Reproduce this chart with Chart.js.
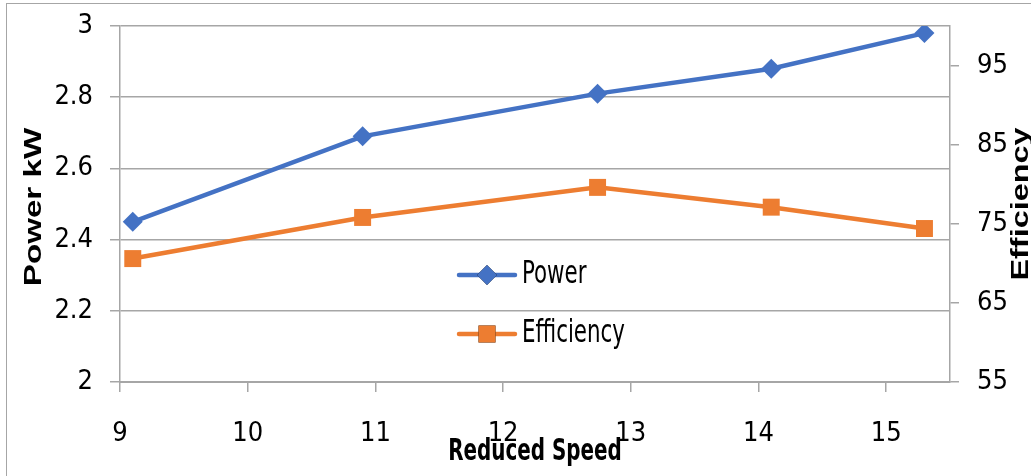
<!DOCTYPE html>
<html>
<head>
<meta charset="utf-8">
<script src="https://cdn.jsdelivr.net/npm/chart.js@4.4.1/dist/chart.umd.min.js"></script>
<style>
  html, body { margin: 0; padding: 0; background: #fff; overflow: hidden; }
  #wrap { position: relative; width: 1031px; height: 476px; }
  #frame { position: absolute; left: 6px; top: 3px; width: 1100px; height: 520px; border: 1px solid #a6a6a6; box-sizing: border-box; }
  canvas { position: absolute; left: 0; top: 0; }
</style>
</head>
<body>
<div id="wrap">
  <div id="frame"></div>
  <canvas id="chart" width="1031" height="476"></canvas>
</div>
<script>
const speed = [9.1, 10.9, 12.74, 14.1, 15.3];
const power = [2.45, 2.69, 2.81, 2.88, 2.98];
const efficiency = [70.6, 75.8, 79.6, 77.1, 74.4];

const powerTicks = [2, 2.2, 2.4, 2.6, 2.8, 3];
const effTicks = [55, 65, 75, 85, 95];
const speedTicks = [9, 10, 11, 12, 13, 14, 15];

const blue = '#4472C4';
const orange = '#ED7D31';
const gridCol = '#a6a6a6';
const narrow = "'DejaVu Sans Condensed', 'Liberation Sans Narrow', sans-serif";

// squeezed text, the original looks stretched tall
function tallText(ctx, txt, x, y, sx, sy) {
    ctx.save();
    ctx.translate(x, y);
    ctx.scale(sx, sy);
    ctx.fillText(txt, 0, 0);
    ctx.restore();
}

// titles and the legend are drawn by hand so they can sit where the original has them
const extras = {
    id: 'extras',
    afterDraw(chart) {
        const ctx = chart.ctx;
        ctx.save();
        ctx.fillStyle = '#000';
        ctx.textAlign = 'center';
        ctx.textBaseline = 'middle';

        ctx.font = "bold 24px 'Liberation Sans', Arial, sans-serif";
        ctx.save();
        ctx.translate(34, 207);
        ctx.rotate(-Math.PI / 2);
        ctx.scale(1.38, 1);
        ctx.fillText('Power kW', 0, 0);
        ctx.restore();

        ctx.save();
        ctx.translate(1021, 204);
        ctx.rotate(-Math.PI / 2);
        ctx.scale(1.35, 1);
        ctx.fillText('Efficiency', 0, 0);
        ctx.restore();

        ctx.font = 'bold 27px ' + narrow;
        tallText(ctx, 'Reduced Speed', 535, 452, 0.82, 1.12);

        const items = [
            { label: 'Power', color: blue, style: 'rectRot', r: 10, y: 275 },
            { label: 'Efficiency', color: orange, style: 'rect', r: 12, y: 334 }
        ];
        items.forEach(it => {
            ctx.strokeStyle = it.color;
            ctx.lineWidth = 4.5;
            ctx.lineCap = 'round';
            ctx.beginPath();
            ctx.moveTo(459, it.y);
            ctx.lineTo(515, it.y);
            ctx.stroke();
            Chart.helpers.drawPoint(ctx, {
                pointStyle: it.style, radius: it.r, borderWidth: 0, rotation: 0
            }, 487, it.y);
            ctx.fillStyle = it.color;
            ctx.fill();
            ctx.fillStyle = '#000';
            ctx.textAlign = 'left';
            ctx.font = '27px ' + narrow;
            tallText(ctx, it.label, 522, it.y, 0.88, 1.15);
        });
        ctx.restore();
    }
};

// fixed box sizes so the plot area lands where the original one is
function fixV(width) {
    return s => { s.width = width; s.paddingTop = 0; s.paddingBottom = 0; };
}

new Chart(document.getElementById('chart'), {
    type: 'line',
    data: {
        datasets: [{
            label: 'Power',
            data: speed.map((s, i) => ({ x: s, y: power[i] })),
            borderColor: blue,
            backgroundColor: blue,
            borderWidth: 4.5,
            pointStyle: 'rectRot',
            pointRadius: 10,
            pointBorderWidth: 0,
            yAxisID: 'y'
        }, {
            label: 'Efficiency',
            data: speed.map((s, i) => ({ x: s, y: efficiency[i] })),
            borderColor: orange,
            backgroundColor: orange,
            borderWidth: 4.5,
            pointStyle: 'rect',
            pointRadius: 12,
            pointBorderWidth: 0,
            yAxisID: 'y2'
        }]
    },
    options: {
        responsive: false,
        animation: false,
        layout: { padding: { top: 26, left: 0, right: 0, bottom: 0 } },
        plugins: { legend: { display: false }, tooltip: { enabled: false } },
        scales: {
            x: {
                type: 'linear',
                min: 9,
                max: 15.5,
                afterBuildTicks: s => { s.ticks = speedTicks.map(v => ({ value: v })); },
                afterFit: s => { s.height = 94; s.paddingLeft = 0; s.paddingRight = 0; },
                ticks: { color: '#000', font: { size: 27, family: narrow }, padding: 26, maxRotation: 0, callback: v => String(v) },
                grid: { drawOnChartArea: false, drawTicks: true, tickLength: 10, color: gridCol, lineWidth: 1.5 },
                border: { color: gridCol, width: 2 }
            },
            y: {
                position: 'left',
                min: 2,
                max: 3,
                afterBuildTicks: s => { s.ticks = powerTicks.map(v => ({ value: v })); },
                afterFit: fixV(120),
                ticks: { color: '#000', font: { size: 27, family: narrow }, padding: 17, callback: v => String(v) },
                grid: { color: gridCol, lineWidth: 1.5, tickLength: 10 },
                border: { color: gridCol, width: 1.5 }
            },
            y2: {
                position: 'right',
                min: 55,
                max: 100,
                afterBuildTicks: s => { s.ticks = effTicks.map(v => ({ value: v })); },
                afterFit: fixV(81),
                ticks: { color: '#000', font: { size: 27, family: narrow }, padding: 18, callback: v => String(v) },
                grid: { drawOnChartArea: false, color: gridCol, lineWidth: 1.5, tickLength: 9 },
                border: { color: gridCol, width: 1.5 }
            }
        }
    },
    plugins: [extras]
});
</script>
</body>
</html>
